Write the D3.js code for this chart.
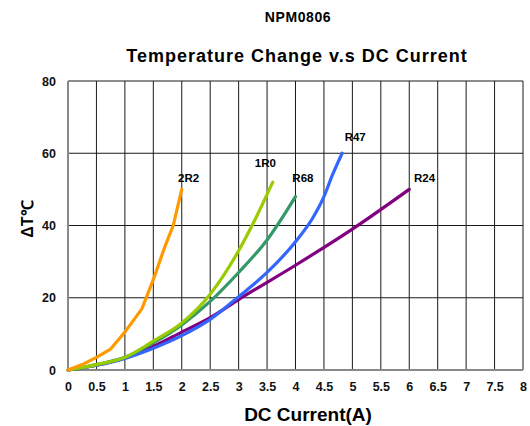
<!DOCTYPE html>
<html><head><meta charset="utf-8">
<script src="https://cdn.jsdelivr.net/npm/d3@7"></script>
<style>body{margin:0;background:#fff}svg{display:block;font-family:"Liberation Sans",Arial,sans-serif}</style>
</head><body><div id="chart"></div>
<script>
const xTicks = [0,0.5,1,1.5,2,2.5,3,3.5,4,4.5,5,5.5,6,6.5,7,7.5,8];
const yTicks = [0,20,40,60,80];
const seriesNames = ["R24","R47","R68","1R0","2R2"];
const seriesColors = ["#800080","#3366ff","#339966","#99cc00","#ff9900"];
const r24 = [[0,0],[0.5,1.3],[1,3.3],[1.5,6.5],[2,10.5],[2.5,14.5],[3,19.5],[4,29],[5,39],[6,50]];
const r47 = [[0,0],[0.5,1.3],[1,3.2],[1.5,6],[2,9.5],[2.5,14],[3,20.3],[3.5,27],[4,35.5],[4.3,42],[4.5,48],[4.65,54],[4.82,60]];
const r68 = [[0,0],[0.5,1.5],[1,3.5],[1.5,7.5],[2,12.5],[2.5,19],[3,27],[3.5,36],[4,48]];
const r1r0 = [[0,0],[0.5,1.5],[1,3.5],[1.5,8],[2,13],[2.5,21],[3,33],[3.3,42],[3.6,52]];
const r2r2 = [[0,0],[0.25,1.5],[0.5,3.5],[0.75,5.8],[1,10.5],[1.3,17],[1.5,25],[1.7,34],[1.85,40],[2,50]];
const seriesData = [r24,r47,r68,r1r0,r2r2];
const labelPos = [[6.27,52.1],[5.05,63.5],[4.13,52.1],[3.47,56.3],[2.12,52.1]];

const W=530,H=426;
const svg=d3.select("#chart").append("svg").attr("width",W).attr("height",H);
const x=d3.scaleLinear().domain([0,8]).range([68,523]);
const y=d3.scaleLinear().domain([0,80]).range([370,81]);

svg.append("text").attr("x",298).attr("y",22).attr("text-anchor","middle")
  .attr("font-size",14).attr("letter-spacing",0.6).attr("font-weight","bold").text("NPM0806");
svg.append("text").attr("x",297).attr("y",62).attr("text-anchor","middle")
  .attr("font-size",18).attr("letter-spacing",1).attr("font-weight","bold").text("Temperature Change v.s DC Current");

const g=svg.append("g");
g.selectAll("line.v").data(xTicks).join("line").attr("class","v")
  .attr("x1",d=>x(d)).attr("x2",d=>x(d)).attr("y1",y(0)).attr("y2",y(80))
  .attr("stroke","#1a1a1a").attr("stroke-width",1);
g.selectAll("line.h").data(yTicks).join("line").attr("class","h")
  .attr("y1",d=>y(d)).attr("y2",d=>y(d)).attr("x1",x(0)).attr("x2",x(8))
  .attr("stroke","#1a1a1a").attr("stroke-width",1);
g.append("line").attr("x1",x(0)).attr("x2",x(8)).attr("y1",y(0)).attr("y2",y(0)).attr("stroke","#888").attr("stroke-width",2);
g.append("line").attr("x1",x(0)).attr("x2",x(0)).attr("y1",y(0)).attr("y2",y(80)).attr("stroke","#888").attr("stroke-width",2);

const xAxis=d3.axisBottom(x).tickValues(xTicks).tickSize(0).tickPadding(12).tickFormat(d=>String(d));
const xa=svg.append("g").attr("transform",`translate(0,${y(0)})`).call(xAxis);
xa.select(".domain").remove();
xa.selectAll("text").attr("font-size",12.5).attr("font-weight","bold").attr("fill","#111").attr("font-family","Liberation Sans, Arial, sans-serif");
const yAxis=d3.axisLeft(y).tickValues(yTicks).tickSize(0).tickPadding(12).tickFormat(d=>String(d));
const ya=svg.append("g").attr("transform",`translate(${x(0)},0)`).call(yAxis);
ya.select(".domain").remove();
ya.selectAll("text").attr("font-size",12.5).attr("font-weight","bold").attr("fill","#111").attr("font-family","Liberation Sans, Arial, sans-serif");

const line=d3.line().x(d=>x(d[0])).y(d=>y(d[1])).curve(d3.curveMonotoneX);
const lineLin=d3.line().x(d=>x(d[0])).y(d=>y(d[1]));
seriesData.forEach((s,i)=>{
  svg.append("path").datum(s).attr("d",i===4?lineLin(s):line(s))
    .attr("fill","none").attr("stroke",seriesColors[i]).attr("stroke-width",3.2).attr("stroke-linejoin","round").attr("stroke-linecap","round");
  svg.append("text").attr("x",x(labelPos[i][0])).attr("y",y(labelPos[i][1])).attr("text-anchor","middle")
    .attr("font-size",11.5).attr("font-weight","bold").text(seriesNames[i]);
});

svg.append("text").attr("x",308).attr("y",421).attr("text-anchor","middle")
  .attr("font-size",19).attr("font-weight","bold").text("DC Current(A)");
svg.append("text").attr("transform","translate(33,219) rotate(-90)").attr("text-anchor","middle")
  .attr("font-size",16).attr("font-weight","bold").text("ΔT℃");
</script></body></html>
